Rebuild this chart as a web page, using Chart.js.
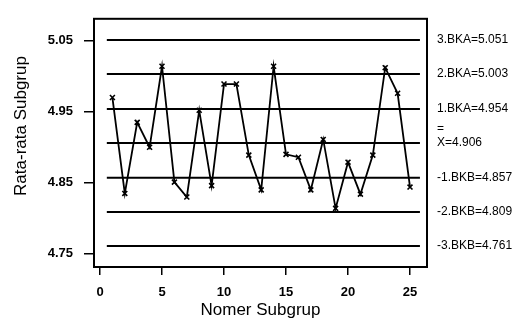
<!DOCTYPE html>
<html>
<head>
<meta charset="utf-8">
<script src="https://cdn.jsdelivr.net/npm/chart.js@4/dist/chart.umd.min.js"></script>
<style>
body{margin:0;background:#fff}
#wrap{width:524px;height:322px}
</style>
</head>
<body>
<div id="wrap"><canvas id="chart" width="524" height="322"></canvas></div>
<script>
const subgroups = [1,2,3,4,5,6,7,8,9,10,11,12,13,14,15,16,17,18,19,20,21,22,23,24,25];
const means = [4.970,4.835,4.935,4.900,5.014,4.851,4.830,4.952,4.846,4.989,4.989,4.889,4.840,
               5.014,4.890,4.886,4.840,4.911,4.814,4.879,4.834,4.889,5.012,4.976,4.844];
const limitNames = ['3.BKA','2.BKA','1.BKA','X','-1.BKB','-2.BKB','-3.BKB'];
const limitValues = [5.051,5.003,4.954,4.906,4.857,4.809,4.761];
const limitSpan = [0.55, 25.8];
const yTicks = [4.75,4.85,4.95,5.05];
const xTicks = [0,5,10,15,20,25];

Chart.defaults.color = '#000';
Chart.defaults.font.family = 'Arial, "Liberation Sans", sans-serif';

const frame = {
    id: 'frame',
    beforeDatasetsDraw(chart){
        const {ctx, chartArea: a} = chart;
        ctx.save();
        ctx.strokeStyle = '#000';
        ctx.lineWidth = 2;
        ctx.strokeRect(a.left, a.top, a.right - a.left, a.bottom - a.top);
        ctx.restore();
    },
    afterDraw(chart){
        // judul sumbu y, sedikit di atas tengah seperti aslinya
        const ctx = chart.ctx;
        ctx.save();
        ctx.font = '17px Arial, "Liberation Sans", sans-serif';
        ctx.fillStyle = '#000';
        ctx.translate(21, 126);
        ctx.rotate(-Math.PI / 2);
        ctx.textAlign = 'center';
        ctx.textBaseline = 'middle';
        ctx.fillText('Rata-rata Subgrup', 0, 0);
        ctx.restore();
    }
};

const limitSets = limitValues.map((v, i) => ({
    label: limitNames[i],
    data: limitSpan.map(x => ({x: x, y: v})),
    borderColor: '#000',
    borderWidth: 2,
    pointRadius: 0
}));

const meanSet = {
    label: 'Rata-rata',
    data: subgroups.map((s, i) => ({x: s, y: means[i]})),
    borderColor: '#000',
    borderWidth: 1.8,
    tension: 0,
    pointStyle: 'crossRot',
    pointRadius: 3.5,
    pointBorderWidth: 1.6,
    pointBorderColor: '#000'
};

const setTicks = list => s => { s.ticks = list.map(v => ({value: v})); };

new Chart(document.getElementById('chart'), {
    type: 'line',
    data: {datasets: [...limitSets, meanSet]},
    plugins: [frame],
    options: {
        responsive: false,
        animation: false,
        layout: {padding: {top: 13, left: 0, right: 0, bottom: 0}},
        plugins: {legend: {display: false}, tooltip: {enabled: false}},
        scales: {
            x: {
                type: 'linear',
                min: -0.484, max: 26.37,
                afterBuildTicks: setTicks(xTicks),
                afterFit(s){ s.height = 55; },
                border: {display: false},
                grid: {drawOnChartArea: false, color: '#000', lineWidth: 1.5, tickLength: 8},
                ticks: {padding: 10, autoSkip: false, font: {size: 13, weight: 'bold'}, callback: v => String(v)},
                title: {display: true, text: 'Nomer Subgrup', font: {size: 17}, padding: {top: 0, bottom: 1}}
            },
            y: {
                min: 4.7315, max: 5.0808,
                afterBuildTicks: setTicks(yTicks),
                afterFit(s){ s.width = 94; },
                border: {display: false},
                grid: {drawOnChartArea: false, color: '#000', lineWidth: 1.5, tickLength: 10},
                ticks: {padding: 11, autoSkip: false, font: {size: 13, weight: 'bold'}, callback: v => v.toFixed(2)}
            },
            y2: {
                position: 'right',
                min: 4.7315, max: 5.0808,
                afterBuildTicks: setTicks(limitValues),
                afterFit(s){ s.width = 97; },
                border: {display: false},
                grid: {display: false, drawTicks: false},
                ticks: {
                    padding: 10,
                    autoSkip: false,
                    font: {size: 12},
                    callback: (v, i) => limitNames[i] === 'X'
                        ? ['=', 'X=' + limitValues[i].toFixed(3), '']
                        : limitNames[i] + '=' + limitValues[i].toFixed(3)
                }
            }
        }
    }
});
</script>
</body>
</html>
